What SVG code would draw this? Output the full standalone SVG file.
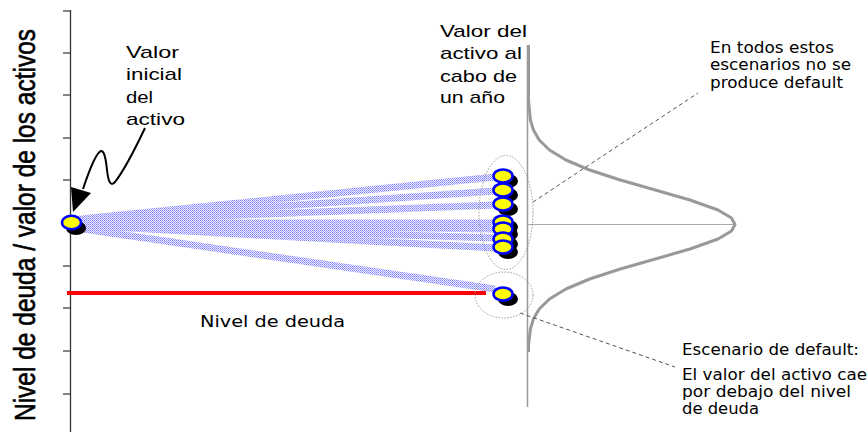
<svg xmlns="http://www.w3.org/2000/svg" width="868" height="432" viewBox="0 0 868 432">
<style>
.ar{font-family:"Liberation Sans",Arial,sans-serif;font-size:17px;fill:#000}
.vd{font-family:"DejaVu Sans",Verdana,sans-serif;font-size:15px;fill:#000}
.band{stroke:url(#dots);stroke-width:7;fill:none}
.nd{fill:#ffff00;stroke:#0000ff;stroke-width:2.5}
.sh{fill:#000}
.tick{stroke:#333;stroke-width:1.2}
.lead{stroke:#555;stroke-width:1;stroke-dasharray:4 3;fill:none}
.grp{fill:none;stroke:#999;stroke-width:1;stroke-dasharray:1.5 1.5}
</style>
<defs>
<pattern id="dots" width="2" height="2" patternUnits="userSpaceOnUse">
<rect width="2" height="2" fill="#f2f2ff"/>
<rect x="0" y="0" width="1" height="1" fill="#7c7cff"/>
<rect x="1" y="1" width="1" height="1" fill="#9a9aff"/>
</pattern>
</defs>
<rect width="868" height="432" fill="#fff"/>

<!-- axis -->
<g id="axis">
<line x1="70.5" y1="10" x2="70.5" y2="432" stroke="#333" stroke-width="1.3"/>
<line class="tick" x1="63" y1="11" x2="70" y2="11"/>
<line class="tick" x1="63" y1="53" x2="70" y2="53"/>
<line class="tick" x1="63" y1="95" x2="70" y2="95"/>
<line class="tick" x1="63" y1="138" x2="70" y2="138"/>
<line class="tick" x1="63" y1="180" x2="70" y2="180"/>
<line class="tick" x1="63" y1="223" x2="70" y2="223"/>
<line class="tick" x1="63" y1="266" x2="70" y2="266"/>
<line class="tick" x1="63" y1="308" x2="70" y2="308"/>
<line class="tick" x1="63" y1="351" x2="70" y2="351"/>
<line class="tick" x1="63" y1="394" x2="70" y2="394"/>
<text transform="translate(35,421) rotate(-90) scale(1,1.24)" x="0" y="0" font-family="Liberation Sans, Arial, sans-serif" font-size="24.5" textLength="392" lengthAdjust="spacingAndGlyphs" stroke="#000" stroke-width="0.5">Nivel de deuda / valor de los activos</text>
</g>

<!-- distribution -->
<g id="distribution">
<line x1="527.5" y1="45" x2="527.5" y2="407" stroke="#999" stroke-width="1.5"/>
<line x1="527.5" y1="224.5" x2="735" y2="224.5" stroke="#aaa" stroke-width="1"/>
<polyline fill="none" stroke="#999" stroke-width="3" stroke-linejoin="round" points="528.5,45 528.5,100 530.4,120 533.4,130 539.2,140 549.5,150 565.9,160 589.6,170 620.3,180 655.3,190 690,200 718,210 731.5,218 735,224.5 731.5,231 718,239 690,249 655.3,259 620.3,269 589.6,279 565.9,289 549.5,299 539.2,309 533.4,319 530.4,329 528.5,345 528.5,352"/>
</g>

<!-- debt level -->
<g id="debt-line">
<line x1="67" y1="293" x2="486" y2="293" stroke="#ff0000" stroke-width="4"/>
<text class="vd" x="200" y="327" font-size="19" textLength="145" lengthAdjust="spacingAndGlyphs">Nivel de deuda</text>
</g>

<!-- connectors -->
<g id="connectors">
<line class="band" x1="76" y1="219.5" x2="495" y2="177"/>
<line class="band" x1="76" y1="220.5" x2="495" y2="191"/>
<line class="band" x1="76" y1="221.5" x2="495" y2="205"/>
<line class="band" x1="76" y1="223" x2="495" y2="223"/>
<line class="band" x1="76" y1="223.5" x2="495" y2="229"/>
<line class="band" x1="76" y1="224.5" x2="495" y2="238"/>
<line class="band" x1="76" y1="225" x2="495" y2="248"/>
<line class="band" x1="76" y1="228" x2="495" y2="289"/>
<path d="M145,128 Q126,168 115,182 Q109,189 107,170 Q105,150 101,151 Q95,153 83,189" fill="none" stroke="#000" stroke-width="2"/>
<polygon points="73,212 71,187 91,193" fill="#000"/>
<path class="lead" d="M533,202 L698,93"/>
<path class="lead" d="M520,313 L675,367"/>
</g>

<!-- group ellipses -->
<g id="groups">
<ellipse class="grp" cx="506" cy="212.5" rx="27" ry="57"/>
<ellipse class="grp" cx="504" cy="295" rx="29" ry="23"/>
</g>

<!-- start node -->
<g id="node-start">
<ellipse class="sh" cx="76" cy="228" rx="10" ry="7"/>
<ellipse class="nd" cx="71.5" cy="222.5" rx="9.5" ry="6.8"/>
</g>

<!-- end nodes -->
<g id="node-e1"><ellipse class="sh" cx="508" cy="181" rx="10" ry="7"/><ellipse class="nd" cx="503" cy="176" rx="9.5" ry="6.5"/></g>
<g id="node-e2"><ellipse class="sh" cx="508" cy="195" rx="10" ry="7"/><ellipse class="nd" cx="503" cy="190" rx="9.5" ry="6.5"/></g>
<g id="node-e3"><ellipse class="sh" cx="508" cy="209" rx="10" ry="7"/><ellipse class="nd" cx="503" cy="204" rx="9.5" ry="6.5"/></g>
<g id="node-e4"><ellipse class="sh" cx="508" cy="227" rx="10" ry="7"/><ellipse class="nd" cx="503" cy="222" rx="9.5" ry="6.5"/></g>
<g id="node-e5"><ellipse class="sh" cx="508" cy="234" rx="10" ry="7"/><ellipse class="nd" cx="503" cy="229" rx="9.5" ry="6.5"/></g>
<g id="node-e6"><ellipse class="sh" cx="508" cy="244" rx="10" ry="7"/><ellipse class="nd" cx="503" cy="239" rx="9.5" ry="6.5"/></g>
<g id="node-e7"><ellipse class="sh" cx="508" cy="252" rx="10" ry="7"/><ellipse class="nd" cx="503" cy="247" rx="9.5" ry="6.5"/></g>
<g id="node-e8"><ellipse class="sh" cx="508" cy="299" rx="10" ry="7"/><ellipse class="nd" cx="503" cy="294" rx="9.5" ry="6.5"/></g>

<!-- labels -->
<g id="label-initial">
<text class="ar" x="126" y="57.5" textLength="53" lengthAdjust="spacingAndGlyphs">Valor</text>
<text class="ar" x="126" y="80" textLength="56" lengthAdjust="spacingAndGlyphs">inicial</text>
<text class="ar" x="126" y="102.5" textLength="27" lengthAdjust="spacingAndGlyphs">del</text>
<text class="ar" x="126" y="124.5" textLength="59" lengthAdjust="spacingAndGlyphs">activo</text>
</g>
<g id="label-final">
<text class="ar" x="440" y="36.5" textLength="87" lengthAdjust="spacingAndGlyphs">Valor del</text>
<text class="ar" x="440" y="59" textLength="82" lengthAdjust="spacingAndGlyphs">activo al</text>
<text class="ar" x="440" y="81.5" textLength="77" lengthAdjust="spacingAndGlyphs">cabo de</text>
<text class="ar" x="440" y="103" textLength="65" lengthAdjust="spacingAndGlyphs">un año</text>
</g>
<g id="label-nodefault">
<text class="vd" x="710" y="52.5" textLength="124" lengthAdjust="spacingAndGlyphs">En todos estos</text>
<text class="vd" x="710" y="70" textLength="141" lengthAdjust="spacingAndGlyphs">escenarios no se</text>
<text class="vd" x="710" y="87.5" textLength="133" lengthAdjust="spacingAndGlyphs">produce default</text>
</g>
<g id="label-default">
<text class="vd" x="682" y="355" textLength="177" lengthAdjust="spacingAndGlyphs">Escenario de default:</text>
<text class="vd" x="682" y="380" font-size="13" textLength="185" lengthAdjust="spacingAndGlyphs">El valor del activo cae</text>
<text class="vd" x="682" y="397" font-size="13" textLength="169" lengthAdjust="spacingAndGlyphs">por debajo del nivel</text>
<text class="vd" x="682" y="414" font-size="13" textLength="77" lengthAdjust="spacingAndGlyphs">de deuda</text>
</g>
</svg>
